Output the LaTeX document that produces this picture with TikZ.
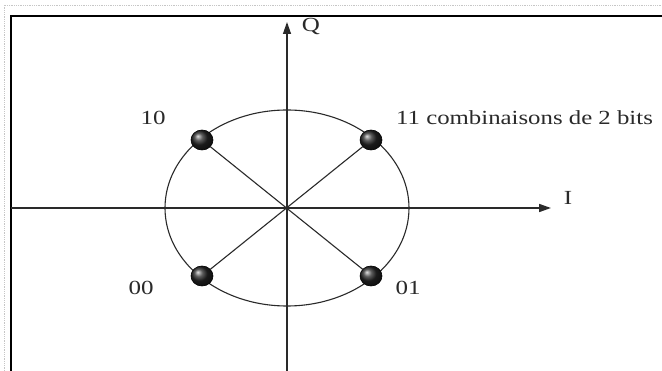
\documentclass[tikz,border=0pt]{standalone}
\usepackage{fontspec}
\setmainfont{Liberation Serif}
\usetikzlibrary{arrows.meta,shapes.geometric}
\definecolor{ink}{HTML}{2A2A2A}
\begin{document}
\begin{tikzpicture}[x=1pt,y=-1pt,
  axisline/.style={draw=ink,line width=1.6pt,-{Triangle[length=12pt,width=8pt]}},
  thinline/.style={draw=ink,line width=1.1pt},
  point/.style={ellipse,minimum width=22pt,minimum height=20pt,inner sep=0pt,shading=ball,ball color=black!85,draw=black,line width=0.6pt},
  lbl/.style={anchor=base,inner sep=0pt,text=ink,font=\fontsize{20}{20}\selectfont}
]
\useasboundingbox (0,0) rectangle (662,371);
\clip (0,0) rectangle (662,371);
\fill[white] (0,0) rectangle (662,371);
% faint scan border
\draw[gray!45,densely dotted,line width=0.8pt] (4,371) -- (4,5) -- (662,5);
% frame
\draw[black,line width=1.8pt] (11,371) -- (11,16) -- (662,16);
% axes
\coordinate (O) at (287,208);
\coordinate (xl) at (11,208);
\coordinate (xr) at (551,208);
\coordinate (yb) at (287,371);
\coordinate (yt) at (287,22);
\draw[axisline] (xl) -- (xr);
\draw[axisline,line width=1.3pt] (yb) -- (yt);
% circle
\draw[thinline] (O) ellipse [x radius=122, y radius=98];
% points
\node[point] (p10) at (202,140) {};
\node[point] (p11) at (371,140) {};
\node[point] (p00) at (202,276) {};
\node[point] (p01) at (371,276) {};
\draw[thinline] (p10) -- (p01);
\draw[thinline] (p11) -- (p00);
% labels
\node[lbl] (l10) at (153,125) {\scalebox{1.25}[1]{10}};
\node[lbl] (l00) at (141,295) {\scalebox{1.25}[1]{00}};
\node[lbl] (l01) at (408,295) {\scalebox{1.25}[1]{01}};
\node[lbl] (lQ) at (311,32) {\scalebox{1.25}[1]{Q}};
\node[lbl] (lI) at (568,205) {\scalebox{1.25}[1]{I}};
\node[lbl,anchor=base west] (l11) at (396,125) {\scalebox{1.24}[1]{11 combinaisons de 2 bits}};
\end{tikzpicture}
\end{document}
